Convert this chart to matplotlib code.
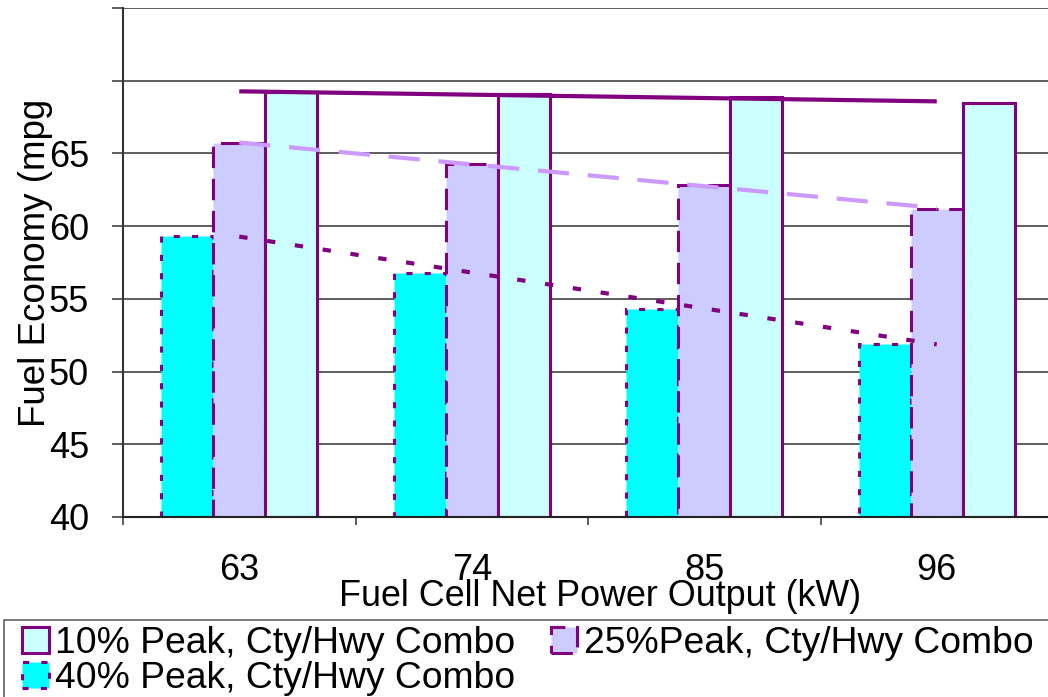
import matplotlib.pyplot as plt
import numpy as np
from matplotlib.patches import Rectangle

plt.rcParams['font.family'] = ['Liberation Sans', 'DejaVu Sans']

# fuel economy by fuel cell size
power_kw = ['63', '74', '85', '96']
peak10 = [69.2, 69.1, 68.9, 68.5]
peak25 = [65.7, 64.3, 62.8, 61.2]
peak40 = [59.3, 56.8, 54.3, 51.9]
y_min, y_max = 40, 75
y_labels = ['40', '45', '50', '55', '60', '65', '', '']

W, H = 1048, 697
fig = plt.figure(figsize=(W / 100, H / 100), dpi=100)
ax = fig.add_axes([123 / W, 1 - 517 / H, 930 / W, 509 / H])

purple = '#800080'
x = np.arange(len(power_kw)) + 0.5
w = 0.224

b40 = ax.bar(x - w, np.array(peak40) - y_min, w, bottom=y_min, color='#00FFFF',
             edgecolor=purple, linewidth=2.2, linestyle=(0, (2, 4)), zorder=2)
b25 = ax.bar(x, np.array(peak25) - y_min, w, bottom=y_min, color='#CCCCFF',
             edgecolor=purple, linewidth=2.2, linestyle=(0, (7, 3.5)), zorder=2)
b10 = ax.bar(x + w, np.array(peak10) - y_min, w, bottom=y_min, color='#CCFFFF',
             edgecolor=purple, linewidth=2.2, zorder=2)

# linear trend lines across the groups
idx = np.arange(len(power_kw))
for vals, col, ls in [(peak10, purple, '-'),
                      (peak25, '#CC99FF', (0, (7.5, 4.5))),
                      (peak40, purple, (0, (2, 4.75)))]:
    k, c = np.polyfit(idx, vals, 1)
    ax.plot(x[[0, -1]], k * idx[[0, -1]] + c, color=col, lw=3, ls=ls,
            solid_capstyle='butt', dash_capstyle='butt', zorder=3)

ax.set_xlim(0, len(power_kw))
ax.set_ylim(y_min, y_max)
ax.set_yticks(range(y_min, y_max + 1, 5))
ax.set_yticklabels(y_labels)
ax.tick_params(axis='y', labelsize=26, length=8, width=1.1, pad=16.5,
               color='#333333')
ax.set_xticks(range(len(power_kw) + 1))
ax.set_xticklabels([])
ax.set_xticks(x, minor=True)
ax.set_xticklabels(power_kw, minor=True)
ax.tick_params(axis='x', which='major', length=6, width=1.1, color='#333333')
ax.tick_params(axis='x', which='minor', length=0, labelsize=26, pad=26)

ax.yaxis.grid(True, color='#333333', lw=1.1)
ax.set_axisbelow(True)
for s in ['top', 'right']:
    ax.spines[s].set_visible(False)
ax.spines['left'].set_color('#333333')
ax.spines['left'].set_linewidth(1.5)
ax.spines['bottom'].set_color('#222222')
ax.spines['bottom'].set_linewidth(1.5)

fig.text(600 / W, 1 - 606 / H, 'Fuel Cell Net Power Output (kW)',
         ha='center', va='baseline', fontsize=25.8)
ylab = fig.text(53 / W, 1 - 427 / H, 'Fuel Economy (mpg)', rotation=90,
                ha='right', va='bottom', fontsize=26.5)
# upper part of the axis title is cut off
ylab.set_clip_path(Rectangle((0, 0), 1, 1 - 102 / H, transform=fig.transFigure))

# legend box runs off the bottom and right of the figure
fig.add_artist(Rectangle((4 / W, -0.1), 1.2, (H - 620) / H + 0.1,
                         transform=fig.transFigure, fill=False,
                         ec='#555555', lw=1.1, zorder=4))
fig.legend([b10, b40, b25],
           ['10% Peak, Cty/Hwy Combo', '40% Peak, Cty/Hwy Combo',
            '25%Peak, Cty/Hwy Combo'],
           ncol=2, loc='upper left', bbox_to_anchor=(22 / W, 1 - 626 / H),
           frameon=False, fontsize=26.8, borderpad=0, borderaxespad=0,
           handlelength=0.72, handleheight=0.72, handletextpad=0.17,
           columnspacing=0.95, labelspacing=0.0)

fig.savefig('out.png', dpi=100)
